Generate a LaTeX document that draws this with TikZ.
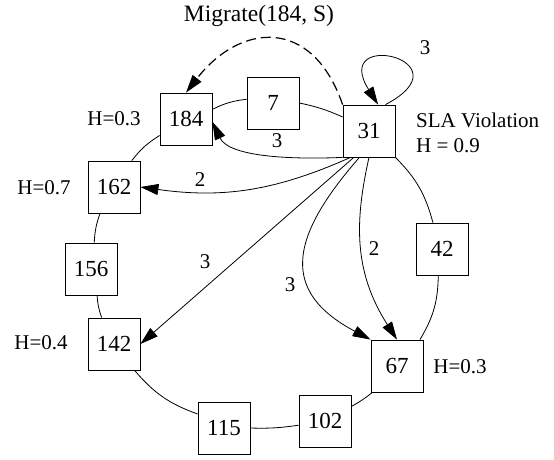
\documentclass[tikz,border=0pt]{standalone}
\usepackage{fontspec}
\setmainfont{Liberation Serif}
\usetikzlibrary{arrows.meta}
\begin{document}
\begin{tikzpicture}[x=1pt,y=-1pt,
  vm/.style={draw, line width=0.8pt, minimum width=52pt, minimum height=52pt, inner sep=0pt, font=\fontsize{23}{27}\selectfont},
  lbl/.style={font=\fontsize{21}{25}\selectfont, inner sep=0pt},
  ring/.style={line width=0.8pt},
  arr/.style={line width=0.8pt, -{Triangle[length=18pt,width=11pt]}},
  mig/.style={line width=1.2pt, dash pattern=on 10pt off 5pt, -{Triangle[length=18pt,width=11pt]}},
]
\useasboundingbox (0,0) rectangle (554,459);
% nodes
\node[vm] (n184) at (186,119) {184};
\node[vm] (n7)   at (273,103) {7};
\node[vm] (n31)  at (369,131) {31};
\node[vm] (n42)  at (442,249) {42};
\node[vm] (n67)  at (397,366) {67};
\node[vm] (n102) at (325,421) {102};
\node[vm] (n115) at (224,428) {115};
\node[vm] (n142) at (114,344) {142};
\node[vm] (n156) at (91,269)  {156};
\node[vm] (n162) at (114,187) {162};
% side labels
\node[lbl] (h184) at (114,119) {H=0.3};
\node[lbl] (h162) at (44,188) {H=0.7};
\node[lbl] (h142) at (41,343) {H=0.4};
\node[lbl] (h67)  at (460,367) {H=0.3};
\node[lbl, anchor=west] (sla) at (416,120) {SLA Violation};
\node[lbl, anchor=west] (h31) at (416,146) {H = 0.9};
\node[font=\fontsize{23.5}{28}\selectfont, inner sep=0pt] (mtxt) at (259,16) {Migrate(184, S)};
% ring
\draw[ring] (n184.20) to[bend left=10] (n7.172);
\draw[ring] (n7.east) to[bend left=6] (n31.152);
\draw[ring] (n31.south east) to[bend left=15] (n42.109);
\draw[ring] (n42.262) to[bend left=15] (n67.49);
\draw[ring] (n67.227) to[bend left=5] (n102.29);
\draw[ring] (n102.189) to[bend left=5] (n115.east);
\draw[ring] (n115.152) to[bend left=15] (n142.308);
\draw[ring] (n142.115) to[bend left=8] (n156.283);
\draw[ring] (n156.83) to[bend left=8] (n162.242);
\draw[ring] (n162.56) to[bend left=10] (n184.212);
% directed edges
\draw[arr] (n31.south west) .. controls (280,160) and (228,155) .. (n184.-6);
\node[lbl] (l1) at (277,141) {3};
\draw[arr] (n31.235) to[bend left=16] (n162.east);
\node[lbl] (l2) at (200,180) {2};
\draw[arr] (n31.240) -- (n142.east);
\node[lbl] (l3) at (205,262) {3};
\draw[arr] (n31.250) .. controls (288,239) and (281,292) .. (n67.north west);
\node[lbl] (l4) at (290,285) {3};
\draw[arr] (n31.270) .. controls (355,220) and (353,271) .. (n67.north);
\node[lbl] (l5) at (374,249) {2};
% self loop
\draw[arr] (n31.58) .. controls (470,60) and (330,28) .. (n31.71);
\node[lbl] (l6) at (425,48) {3};
% migrate
\draw[mig] (n31.north west) .. controls (312,16) and (240,23) .. (n184.north);
\end{tikzpicture}
\end{document}
